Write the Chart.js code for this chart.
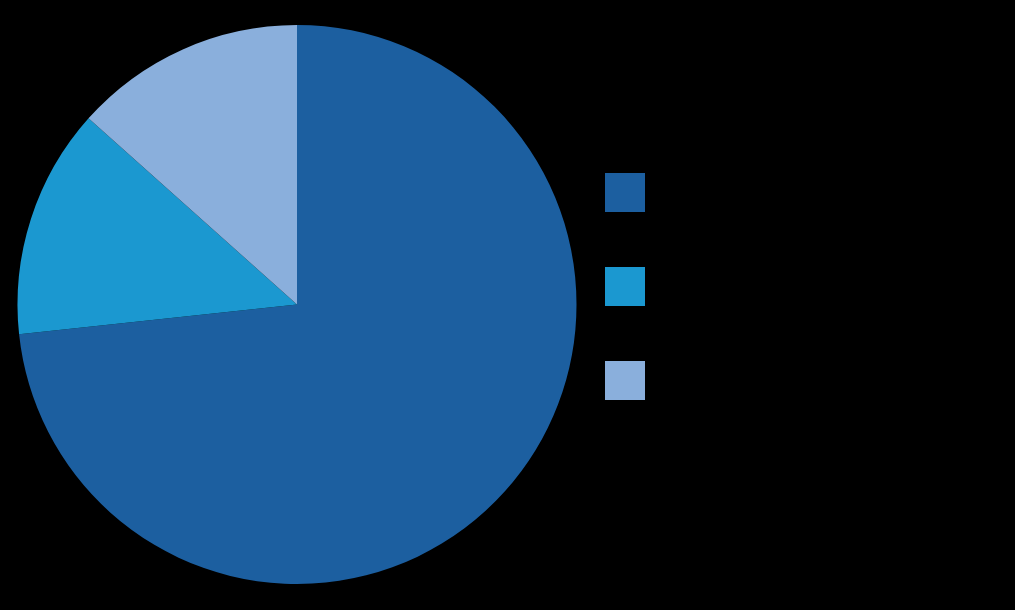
<!DOCTYPE html>
<html>
<head>
<meta charset="utf-8">
<script src="https://cdn.jsdelivr.net/npm/chart.js@4"></script>
<style>
    html, body { margin: 0; padding: 0; background: #000; }
    #wrap { position: relative; width: 1015px; height: 610px; background: #000; font-family: 'Open Sans', 'Liberation Sans', sans-serif; }
    #chartBox { position: absolute; left: 0; top: 0; width: 594px; height: 610px; }
    #legend { position: absolute; left: 605px; top: 173px; list-style: none; margin: 0; padding: 0; }
    #legend li { display: flex; align-items: center; height: 39px; margin-bottom: 55px; color: #000; font-size: 18px; }
    #legend .swatch { width: 40px; height: 39px; margin-right: 14px; }
</style>
</head>
<body>
<div id="wrap">
    <div id="chartBox"><canvas id="pie"></canvas></div>
    <ul id="legend"></ul>
</div>
<script>
const categories = ['Category A', 'Category B', 'Category C'];
const shares = [73.3, 13.3, 13.4];
const sliceColors = ['#1C5FA0', '#1B98D0', '#8AAFDC'];

const ctx = document.getElementById('pie').getContext('2d');
const chart = new Chart(ctx, {
    type: 'pie',
    data: {
        labels: categories,
        datasets: [{
            data: shares,
            backgroundColor: sliceColors,
            borderWidth: 0
        }]
    },
    options: {
        responsive: true,
        maintainAspectRatio: false,
        animation: false,
        layout: {
            padding: { top: 25, bottom: 26, left: 0, right: 0 }
        },
        plugins: {
            legend: { display: false }, // legend is built as html on the right
            tooltip: { enabled: false }
        }
    }
});

// html legend from the chart's own legend items
const legendEl = document.getElementById('legend');
const items = Chart.overrides.pie.plugins.legend.labels.generateLabels(chart);
items.forEach(item => {
    const li = document.createElement('li');
    const box = document.createElement('span');
    box.className = 'swatch';
    box.style.background = item.fillStyle;
    li.appendChild(box);
    const txt = document.createElement('span');
    txt.textContent = item.text;
    li.appendChild(txt);
    legendEl.appendChild(li);
});
</script>
</body>
</html>
